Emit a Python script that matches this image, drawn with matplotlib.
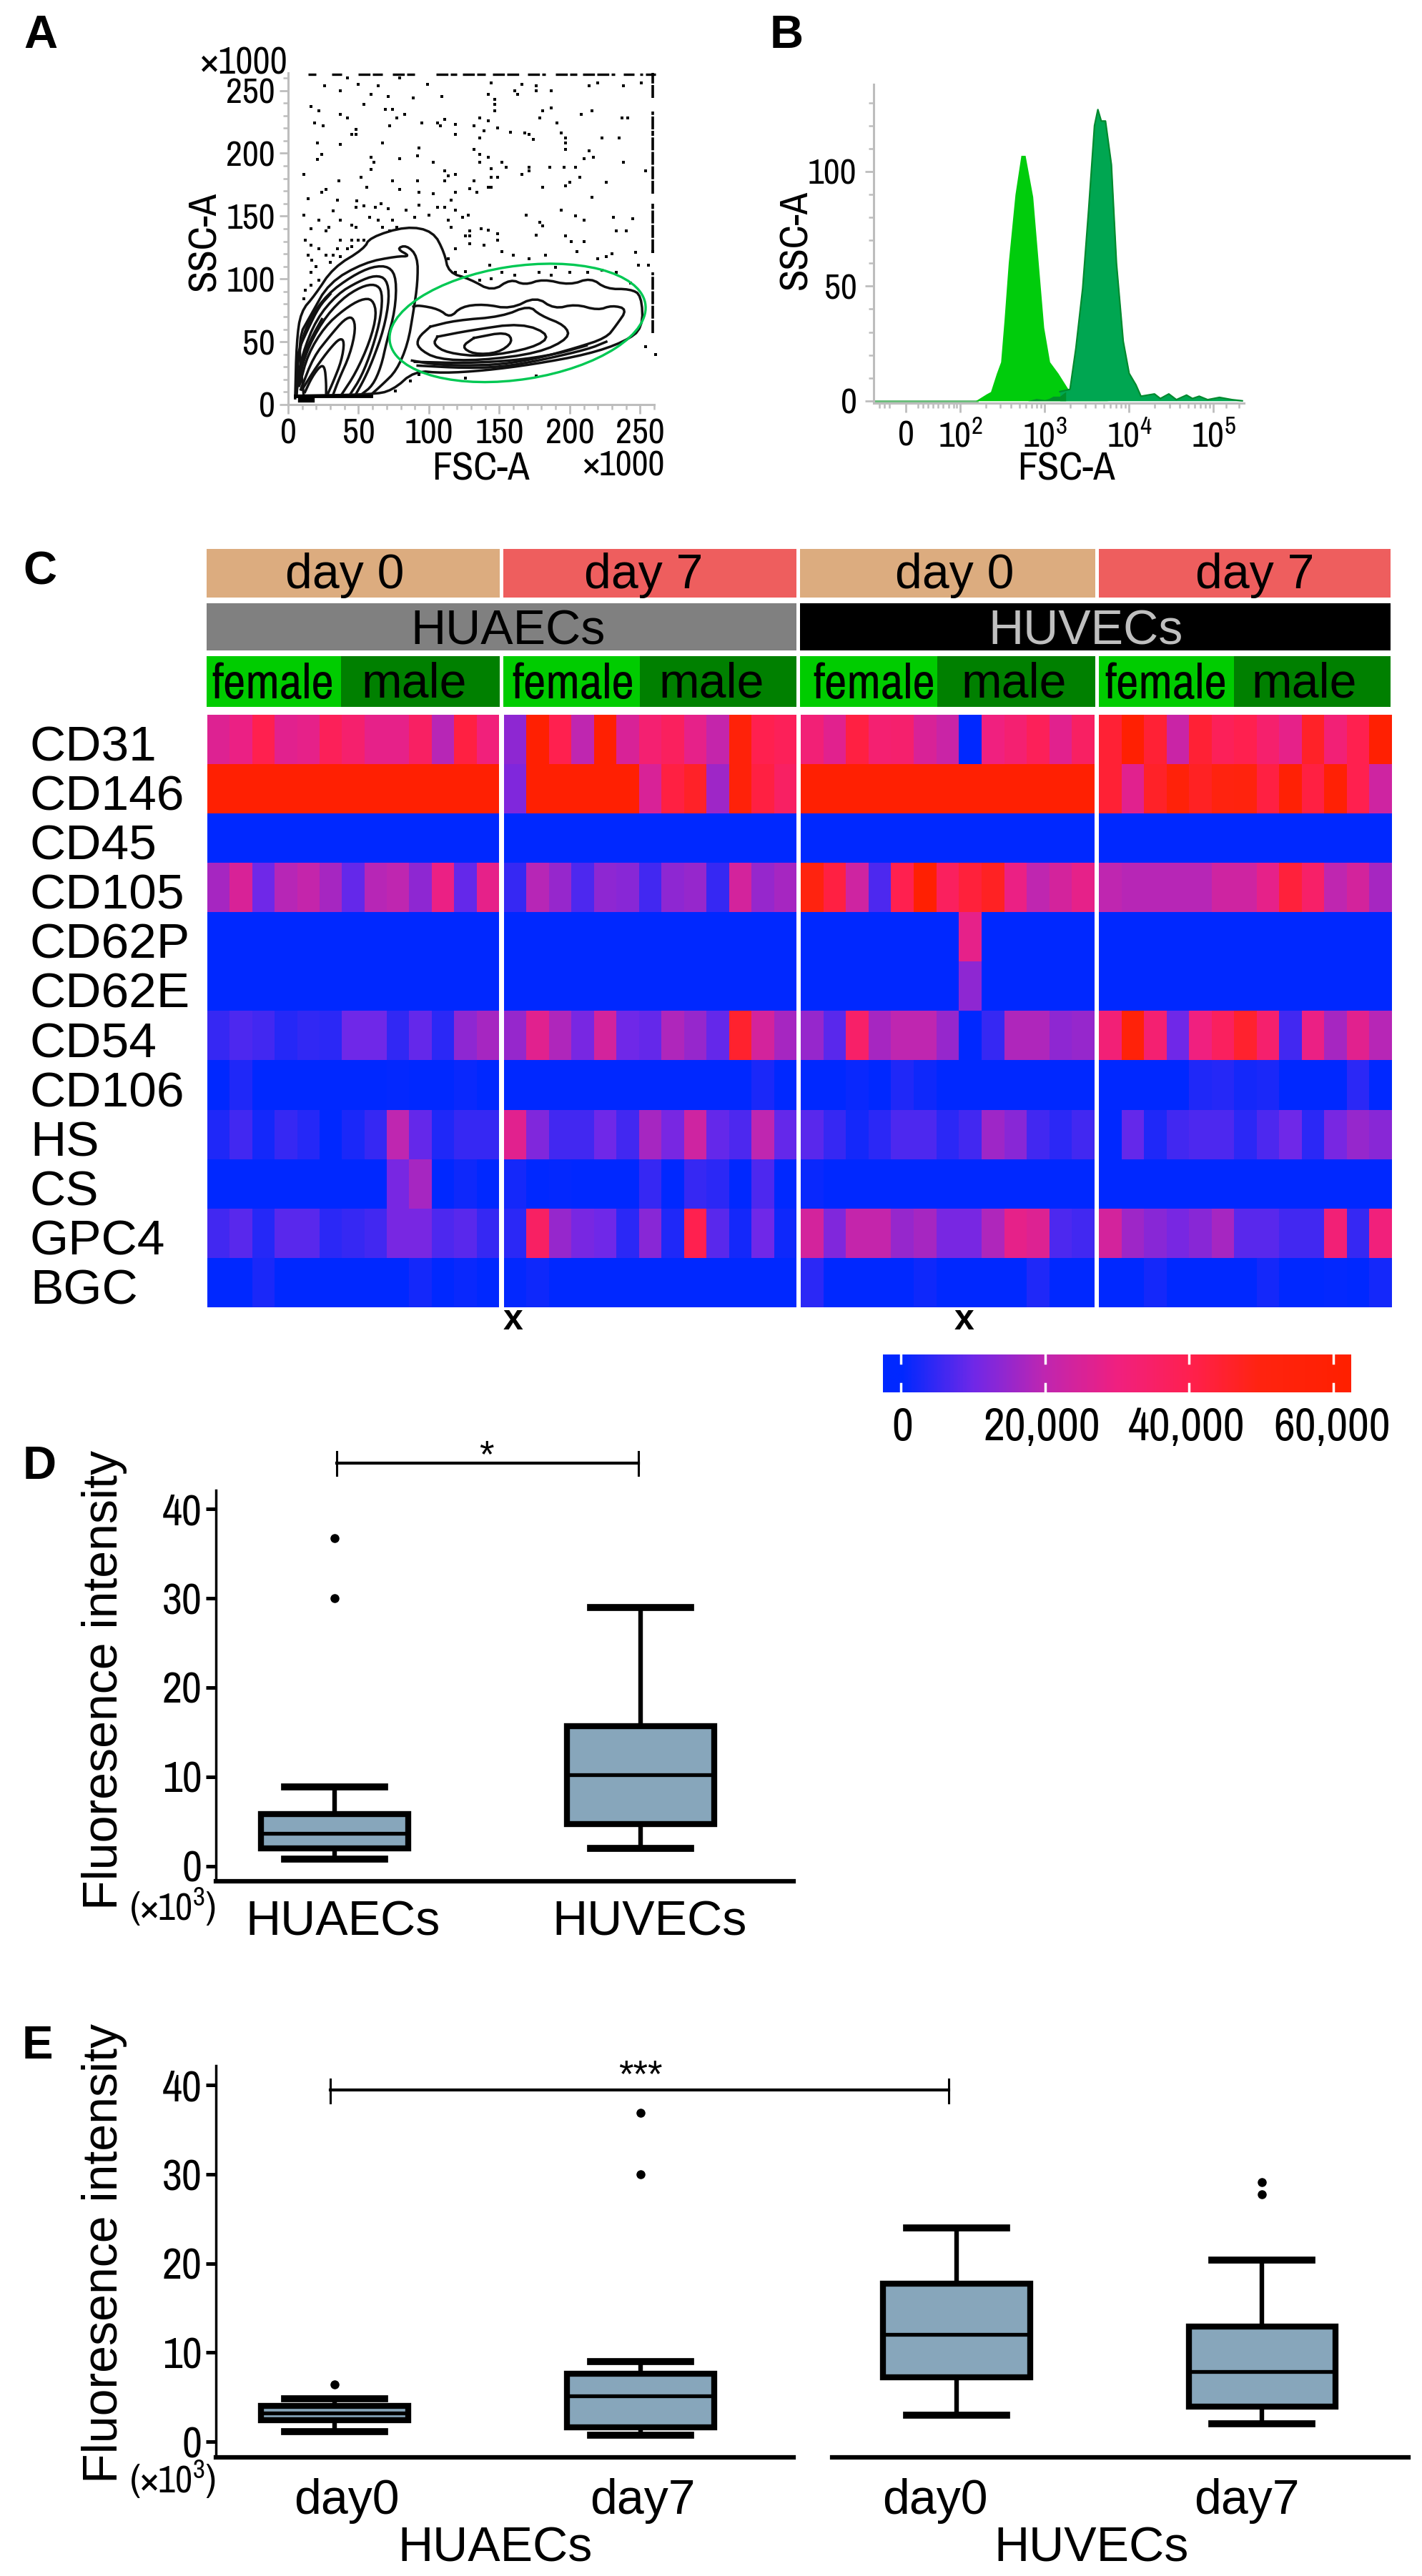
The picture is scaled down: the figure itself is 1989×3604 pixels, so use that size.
import numpy as np
import matplotlib
matplotlib.use("Agg")
import matplotlib.pyplot as plt
from matplotlib.colors import LinearSegmentedColormap
from matplotlib.patches import Ellipse, Rectangle
import logging
logging.getLogger('matplotlib.font_manager').setLevel(logging.ERROR)

W, H = 1989, 3604
plt.rcParams['mathtext.default'] = 'regular'
NORMAL = ['Liberation Sans', 'DejaVu Sans']
NARROW = ['Archivo Narrow', 'Roboto Condensed', 'Liberation Sans', 'DejaVu Sans']
plt.rcParams['font.family'] = NORMAL
plt.rcParams['mathtext.fontset'] = 'custom'
plt.rcParams['mathtext.rm'] = 'Archivo Narrow'
plt.rcParams['mathtext.it'] = 'Archivo Narrow'
plt.rcParams['mathtext.bf'] = 'Archivo Narrow'

# ---------------- DATA: panel A (x1000) ----------------
outer = [(5,5),(6,50),(9,74),(19,87),(32,109),(54,124),(58,133),(84,142),(103,138),(111,121),(114,105),(129,100),
         (145,90),(158,100),(168,95),(181,100),(200,95),(215,101),(226,92),(243,92),(251,87),(252,61),(239,50),
         (213,40),(174,32),(139,27),(110,25),(90,27),(74,11),(59,8),(5,7)]
left_pop = [
 [(11,8),(7,53),(16,71),(29,97),(54,113),(77,118),(87,118),(77,124),(84,127),(92,118),(92,97),(89,74),(85,48),(77,27),(67,16),(59,8)],
 [(6,20),(8,45),(15,68),(28,88),(45,102),(60,110),(72,110),(77,100),(76,75),(70,50),(66,30),(60,15),(52,8)],
 [(6,15),(10,40),(20,68),(35,88),(50,98),(62,103),(70,100),(72,85),(68,60),(60,35),(54,20),(48,8)],
 [(7,15),(12,40),(24,66),(38,84),(52,94),(62,96),(67,90),(66,70),(60,45),(52,22),(44,8)],
 [(8,15),(14,40),(26,62),(40,76),(52,84),(60,84),(63,72),(58,50),(48,25),(38,8)],
 [(9,12),(18,38),(30,55),(40,68),(46,70),(48,60),(44,40),(36,20),(32,8)],
 [(10,12),(20,30),(30,45),(37,53),(40,50),(38,35),(32,18),(28,8)],
 [(12,10),(17,22),(23,31),(26,30),(27,18),(27,8)],
 [(6,8),(6,40),(14,60),(22,78),(30,88)],
 [(6,8),(8,30),(16,52),(24,68)],
]
floor_line = [(5,7),(59,7)]
floor_blobs = [(9,4),(17,4)]
right_pop = [
 [(89,78),(93,79),(107,76),(115,69),(123,78),(139,80),(158,76),(176,86),(189,76),(204,80),(220,75),(230,79),(241,76),
  (233,63),(226,53),(204,45),(178,37),(152,32),(126,31),(103,32),(88,35)],
 [(101,62),(119,67),(152,70),(171,79),(179,71),(197,63),(200,53),(178,41),(136,35),(106,36),(92,45),(92,53),(101,62)],
 [(106,54),(129,59),(166,65),(187,55),(174,45),(139,38),(113,41),(103,48),(106,54)],
 [(132,53),(155,58),(160,50),(149,41),(132,40),(123,46),(132,53)],
 [(92,31),(126,29),(152,30),(178,35),(213,44),(226,50)],
 [(90,34),(126,33),(160,35),(190,40),(212,47)],
]
gate_center = (163, 65)
gate_size = (184, 90)
gate_angle = 10
dots = [(26,254),(37,250),(42,260),(50,255),(64,254),(79,260),(99,255),(144,256),(166,255),(176,254),(176,250),(161,250),
 (187,250),(214,254),(220,256),(238,254),(251,256),(59,247),(71,245),(89,244),(109,245),(142,247),(147,243),(163,247),
 (16,237),(54,239),(69,235),(147,239),(187,236),(181,234),(147,234),(22,234),(37,231),(42,228),(74,235),(83,231),(77,228),
 (208,231),(216,234),(237,228),(241,228),(19,224),(25,222),(72,222),(95,224),(106,224),(111,227),(108,222),(119,223),
 (136,228),(142,226),(132,222),(149,220),(179,228),(191,224),(48,219),(48,215),(45,215),(119,215),(139,218),(158,217),
 (168,216),(171,215),(174,211),(194,216),(197,212),(197,208),(223,212),(235,212),(21,208),(37,207),(67,208),(136,212),
 (93,204),(132,203),(214,202),(197,203),(24,199),(21,195),(59,197),(79,196),(92,198),(136,199),(142,197),(217,197),
 (210,196),(238,193),(61,193),(103,193),(136,193),(152,193),(144,188),(155,189),(186,189),(111,186),(171,186),(196,189),
 (204,189),(254,186),(11,183),(52,181),(59,187),(114,182),(119,183),(144,181),(149,181),(166,183),(207,181),(171,189),
 (36,178),(56,173),(74,178),(92,178),(111,178),(132,178),(142,173),(181,173),(197,174),(226,177),(200,177),(27,171),
 (24,169),(79,171),(93,169),(103,168),(129,172),(134,169),(119,169),(144,173),(14,164),(35,163),(49,162),(66,160),
 (93,159),(106,157),(116,163),(216,165),(48,157),(54,158),(62,157),(71,156),(84,155),(111,157),(128,151),(119,155),
 (11,151),(32,154),(169,151),(194,155),(204,150),(22,147),(37,147),(58,149),(64,147),(74,147),(90,149),(100,151),
 (114,147),(124,149),(210,147),(231,149),(245,148),(16,140),(45,143),(48,141),(67,141),(72,138),(29,141),(77,141),
 (116,141),(129,138),(179,145),(181,142),(233,138),(240,138),(12,131),(27,138),(37,131),(45,131),(50,131),(54,131),
 (129,134),(137,140),(142,139),(149,136),(176,135),(197,134),(126,134),(201,130),(210,130),(16,127),(22,124),(35,124),
 (42,124),(119,124),(149,131),(139,127),(129,128),(226,118),(247,121),(259,122),(14,119),(17,115),(27,119),(32,119),
 (37,118),(45,126),(152,122),(160,119),(183,119),(205,122),(220,116),(230,120),(16,105),(30,113),(20,110),(114,116),
 (126,106),(143,111),(171,116),(190,109),(223,107),(249,111),(256,111),(12,91),(16,95),(11,84),(22,99),(119,105),
 (136,99),(144,100),(152,105),(161,103),(178,105),(187,103),(200,105),(213,105),(233,105),(243,97),(254,46),(261,40),
 (93,24),(87,19),(76,11),(126,21),(176,23)]
top_runs = [(14,20),(31,38),(50,67),(74,90),(105,120),(124,140),(145,165),(170,183),(190,205),(209,232),(238,246),(250,252),(254,261)]
right_runs = [(244,264),(219,233),(168,218),(121,160),(57,105)]

# ---------------- DATA: panel B ----------------
hist1_x = [2.18,2.31,2.36,2.43,2.48,2.52,2.57,2.65,2.72,2.77,2.86,2.91,2.99,3.06,3.16,3.28,3.47,3.76]
hist1_y = [0,3,4,12,17,35,60,90,107,107,89,67,32,17,12,5,1,0]
hist2_x = [3.18,3.30,3.37,3.45,3.52,3.59,3.63,3.67,3.72,3.79,3.85,3.93,4.00,4.08,4.14,4.30,4.37,4.47,4.56,4.68,4.75,4.83,4.93,5.07,5.22,5.34]
hist2_y = [4,5,23,49,83,120,127,122,122,103,60,26,12,7,2,3,1,3,0.5,2.5,1,2,0.5,1.5,0.5,0]
tail_x = [1.0,2.8,2.9,3.0,3.05,3.1,3.18,3.25]
tail_y = [0,0,1,0.5,1,2,2,4]
b_major = [1.356,2,3,4,5]
b_labels = ['0','$10^{2}$','$10^{3}$','$10^{4}$','$10^{5}$']

# ---------------- DATA: panel C (thousands) ----------------
markers = ['CD31','CD146','CD45','CD105','CD62P','CD62E','CD54','CD106','HS','CS','GPC4','BGC']
z13 = [0]*13
huaec_d0 = [
 [26,29,40,27,28,38,34,28,28,36,19,42,31],
 [60]*13, z13,
 [17,25,10,19,21,17,9,19,20,14,29,9,28],
 z13, z13,
 [5,7,6,3.5,4.5,4,10,10,4.5,9,4,14,17],
 [0,3,0,0,0,0,0,0,0.5,0,0,1,0],
 [3,6,2,5,3.5,0,2.5,5,20,9,3,5,5],
 [0,0,0,0,0,0,0,0,11,17,0,1.5,0],
 [6,8,3.5,8,8,4,5,6,11,11,7,8,5],
 [0,0,2.5,0,0,0,0,0,0,2,0,1,0]]
huaec_d7 = [
 [14,60,40,20,60,25,33,37,28,21,55,40,38],
 [12,60,60,60,60,60,25,42,46,16,55,42,36],
 z13,
 [5,19,15,7,14,13,6,14,15,5,24,15,17],
 z13, z13,
 [15,27,18,11,24,10,9,18,15,9,45,24,17],
 [0,0,0,0,0,0,0,0,0,0,0,2.5,0],
 [27,12,6,6,10,6,17,11,23,9,7,20,9],
 [2,0,0.5,0,0,0,5,0,5,4,0,7,0],
 [4,36,15,11,10,4,13,3,40,8,2,10,1.5],
 [0.5,1.5,0,0,0,0,0,0,0,0,0,0,0]]
huvec_d0 = [
 [32,27,42,33,34,25,22,0,30,33,38,27,36],
 [60]*13, z13,
 [50,42,23,7,40,60,37,43,47,29,20,24,28],
 [0,0,0,0,0,0,0,28,0,0,0,0,0],
 [0,0,0,0,0,0,0,14,0,0,0,0,0],
 [15,8,35,17,20,20,15,0,5,18,18,14,15],
 [0,0,1,0,3,1.5,0,0,0,0,0,0,0],
 [8,5,2,4,7,7,4,6,16,13,6,4,6],
 [1,0,0,0,0,0,0,0,0,0,0,0,0],
 [24,12,21,21,15,17,11,11,18,28,26,7,6],
 [4,0,0,0,0,1.5,0,0,0,0,3,0,0]]
huvec_d7 = [
 [44,60,44,22,44,38,40,34,28,46,32,40,60],
 [44,27,46,55,47,50,52,42,58,42,58,40,23],
 z13,
 [20,19,19,19,19,23,23,28,43,35,20,24,17],
 z13, z13,
 [32,55,33,10,30,37,45,34,6,29,17,27,19],
 [0,0,0,0,3,3.5,2,2.5,0,0,0,4,0],
 [0,9,3,6,7,7,4,7,10,4,11,15,13],
 z13,
 [24,16,13,11,13,17,8,8,6,6,32,5,31],
 [0,0,2,0,0,0,0,2,0,0,0.5,0,2]]
cbar_ticks = ['0','20,000','40,000','60,000']

# ---------------- DATA: panels D, E (x10^3) ----------------
d_labels = ['HUAECs','HUVECs']
d_stats = [dict(whislo=0.8,q1=2.0,med=3.7,q3=5.8,whishi=8.9,fliers=[30,36.7]),
           dict(whislo=2.0,q1=4.7,med=10.2,q3=15.7,whishi=29.0,fliers=[])]
e_stats_a = [dict(whislo=1.1,q1=2.4,med=3.2,q3=4.0,whishi=4.8,fliers=[6.4]),
             dict(whislo=0.7,q1=1.6,med=5.1,q3=7.6,whishi=9.0,fliers=[30,36.9])]
e_stats_v = [dict(whislo=3.0,q1=7.2,med=12.0,q3=17.7,whishi=24.0,fliers=[]),
             dict(whislo=2.0,q1=3.9,med=7.9,q3=12.9,whishi=20.4,fliers=[27.8,29.1])]

# ---------------- helpers ----------------
fig = plt.figure(figsize=(W/100, H/100), dpi=100, facecolor='white')

def axpx(l, t, r, b, **kw):
    return fig.add_axes([l/W, 1-b/H, (r-l)/W, (b-t)/H], **kw)

over = fig.add_axes([0,0,1,1], zorder=20)
over.set_xlim(0,W); over.set_ylim(H,0); over.axis('off'); over.patch.set_alpha(0)

def T(x, y, s, size=49, fam=NORMAL, **kw):
    kw.setdefault('ha','center'); kw.setdefault('va','center')
    over.text(x, y, s, fontsize=size, family=fam, **kw)

def smooth(pts, n=3):
    p = np.array(pts, float)
    for _ in range(n):
        q = np.empty((2*len(p)-2, 2))
        q[0::2] = .75*p[:-1] + .25*p[1:]
        q[1::2] = .25*p[:-1] + .75*p[1:]
        p = np.vstack([p[0], q, p[-1]])
    return p

# panel letters
for s,x,y in [('A',57,50),('B',1100,50),('C',56,801),('D',55,2052),('E',52,2863)]:
    T(x,y,s,size=47,fontweight='bold')

# ---------------- Panel A ----------------
GR = '#BDBDBD'
a = axpx(403,102,915,566)
a.set_xlim(0,260); a.set_ylim(0,264)
for s in ('top','right'): a.spines[s].set_visible(False)
for s in ('left','bottom'):
    a.spines[s].set_color(GR); a.spines[s].set_linewidth(2.2)
a.set_xticks(range(0,251,50)); a.set_yticks(range(0,251,50))
a.set_xticks(range(0,261,10),minor=True); a.set_yticks(range(0,261,10),minor=True)
a.tick_params(which='major',length=9,width=2,color=GR,labelsize=36,pad=4)
a.tick_params(which='minor',length=5,width=1.8,color=GR)
for l in a.get_xticklabels()+a.get_yticklabels(): l.set_family(NARROW)
for c in [outer]+left_pop+right_pop:
    p = smooth(c,2); a.plot(p[:,0],p[:,1],color='#111111',lw=2.5,solid_joinstyle='round')
a.plot([q[0] for q in floor_line],[q[1] for q in floor_line],color='black',lw=3.5)
a.plot([q[0] for q in floor_blobs],[q[1] for q in floor_blobs],color='black',lw=6,clip_on=False)
a.scatter([d[0] for d in dots],[d[1] for d in dots],s=10,marker='s',color='black',linewidths=0,clip_on=False)
for x0,x1 in top_runs: a.plot([x0,x1],[263,263],color='black',lw=2.4,clip_on=False,ls=(0,(5,1)))
for y0,y1 in right_runs: a.plot([259,259],[y0,y1],color='black',lw=2.6,clip_on=False,ls=(0,(5,0.6)))
a.add_patch(Ellipse(gate_center,gate_size[0],gate_size[1],angle=gate_angle,fill=False,ec='#00C853',lw=2.4,zorder=5))
T(286,337,'SSC-A',40,NARROW,rotation=90)
T(672,656,'FSC-A',40,NARROW)
T(341,89,'×1000',38,NARROW)
T(872,652,'×1000',36,NARROW)

# ---------------- Panel B ----------------
b = axpx(1222,118,1740,564)
b.set_xlim(0.975,5.36); b.set_ylim(-1,138)
for s in ('top','right'): b.spines[s].set_visible(False)
for s in ('left','bottom'):
    b.spines[s].set_color(GR); b.spines[s].set_linewidth(2.2)
b.fill_between(hist1_x,hist1_y,color='#00CC0C',lw=0,zorder=2)
b.fill_between(hist2_x,hist2_y,color='#00A651',lw=0,zorder=3)
b.plot(hist2_x,hist2_y,color='#008A2E',lw=1.6,zorder=4)
b.fill_between(tail_x,tail_y,color='#00902A',lw=0,zorder=4)
b.plot([0.98,2.2],[0,0],color='#66BB77',lw=2,zorder=1)
b.set_xticks(b_major); b.set_xticklabels(b_labels)
minors = [1.04,1.1,1.16,1.5,1.56,1.62,1.68,1.74,1.8,1.86,1.92,1.96]
for n in (2,3,4):
    minors += [n+np.log10(k) for k in range(2,10)]
minors += [5.15,5.3]
b.set_xticks(minors,minor=True)
b.set_yticks([0,50,100]); b.set_yticks(range(0,131,10),minor=True)
b.tick_params(which='major',length=9,width=2,color=GR,labelsize=36,pad=8)
b.tick_params(which='minor',length=5,width=1.8,color=GR)
for l in b.get_xticklabels()+b.get_yticklabels(): l.set_family(NARROW)
T(1113,335,'SSC-A',40,NARROW,rotation=90)
T(1491,656,'FSC-A',40,NARROW)

# ---------------- Panel C ----------------
cmap = LinearSegmentedColormap.from_list('hm',[(0,'#0028FF'),(2.5/65,'#0028FF'),(12.5/65,'#7028E8'),(22.5/65,'#C026B0'),
        (32.5/65,'#F02080'),(42.5/65,'#FF2050'),(52.5/65,'#FF2410'),(1,'#FF2000')])
VMIN,VMAX = -2.5,62.5
blocks = [(290,698,huaec_d0),(705,1114,huaec_d7),(1120,1531,huvec_d0),(1537,1946,huvec_d7)]
for l,r,dat in blocks:
    ax = axpx(l,1000,r,1829)
    ax.imshow(np.array(dat,float),cmap=cmap,vmin=VMIN,vmax=VMAX,aspect='auto',interpolation='nearest')
    ax.axis('off')
rowh = 829/12
for i,m in enumerate(markers):
    T(42,1000+rowh*(i+.5)+12,m,50,ha='left')
for (l,r,c,txt,tc,tx) in [(289,699,'#DCAC7F','day 0','black',482),(704,1114,'#EE5E5E','day 7','black',900),
                          (1119,1532,'#DCAC7F','day 0','black',1335),(1537,1945,'#EE5E5E','day 7','black',1755)]:
    over.add_patch(Rectangle((l,768),r-l,68,fc=c,ec='none'))
    T(tx,805,txt,49,color=tc)
over.add_patch(Rectangle((289,844),825,66,fc='#808080',ec='none'))
over.add_patch(Rectangle((1119,844),826,66,fc='black',ec='none'))
T(711,883,'HUAECs',49); T(1519,883,'HUVECs',49,color='#BFBFBF')
for (l,m,r,fx,mx) in [(289,477,699,382,579),(704,895,1114,802,995),(1119,1311,1532,1223,1418),(1537,1726,1945,1631,1824)]:
    over.add_patch(Rectangle((l,918),m-l,71,fc='#00CC00',ec='none'))
    over.add_patch(Rectangle((m,918),r-m,71,fc='#008000',ec='none'))
    T(fx,958,'female',50,NARROW); T(mx,958,'male',49)
T(718,1847,'x',36,fontweight='bold'); T(1349,1847,'x',36,fontweight='bold')
cb = axpx(1235,1895,1890,1948)
cb.imshow(np.linspace(VMIN,VMAX,400)[None,:],cmap=cmap,vmin=VMIN,vmax=VMAX,aspect='auto',extent=[VMIN,VMAX,0,1])
cb.axis('off')
for v in (0,20,40,60):
    cb.plot([v,v],[0,.22],color='white',lw=2.5); cb.plot([v,v],[.78,1],color='white',lw=2.5)
cb.set_xlim(VMIN,VMAX); cb.set_ylim(0,1)
for x,s in zip((1262,1457,1660,1863),cbar_ticks):
    T(x,1997,s,47,NARROW)

# ---------------- Panels D, E ----------------
def boxes(ax, stats, capw):
    st = [dict(s,label='') for s in stats]
    ax.bxp(st,positions=[1,2],widths=0.481,patch_artist=True,showfliers=True,capwidths=capw,
           boxprops=dict(facecolor='#87A6BB',edgecolor='black',linewidth=6),
           medianprops=dict(color='black',linewidth=3.8),
           whiskerprops=dict(color='black',linewidth=4.6),
           capprops=dict(color='black',linewidth=7),
           flierprops=dict(marker='o',markerfacecolor='black',markeredgecolor='black',markersize=8))
    ax.set_xticks([])

def style(ax, left=True):
    for s in ('top','right'): ax.spines[s].set_visible(False)
    ax.spines['bottom'].set_linewidth(4.5)
    if left:
        ax.spines['left'].set_linewidth(2.5)
        ax.set_yticks([0,10,20,30,40])
        ax.tick_params(axis='y',length=10,width=3.6,labelsize=44,pad=4)
        for l in ax.get_yticklabels(): l.set_family(NARROW)
    else:
        ax.spines['left'].set_visible(False)
        ax.set_yticks([])

d = axpx(302,2085,1110,2632)
boxes(d,d_stats,0.327)
d.set_xlim(0.612,2.5); d.set_ylim(-1.7,42.1); style(d)
over.plot([471,893],[2047,2047],color='black',lw=3)
for x in (471,893): over.plot([x,x],[2031,2064],color='black',lw=2.2)
T(680,2038,'*',38)
T(146,2350,'Fluoresence intensity',49,rotation=90)
T(241,2668,'(×10$^{3}$)',38,NARROW)
T(480,2690,d_labels[0],49); T(909,2690,d_labels[1],49)

e1 = axpx(302,2890,1110,3438)
boxes(e1,e_stats_a,0.327)
e1.set_xlim(0.612,2.5); e1.set_ylim(-1.76,42.2); style(e1)
e2 = axpx(1164,2890,1970,3438)
boxes(e2,e_stats_v,0.327)
e2.set_xlim(0.593,2.479); e2.set_ylim(-1.76,42.2); style(e2,False)
over.plot([462,1327],[2924,2924],color='black',lw=3)
for x in (462,1327): over.plot([x,x],[2909,2942],color='black',lw=2.2)
T(896,2905,'***',38)
T(146,3153,'Fluoresence intensity',49,rotation=90)
T(241,3469,'(×10$^{3}$)',38,NARROW)
for x,s in zip((485,899,1308,1744),('day0','day7','day0','day7')):
    T(x,3499,s,49)
T(693,3565,'HUAECs',49); T(1527,3565,'HUVECs',49)

fig.savefig('out.png',dpi=100,facecolor='white')
